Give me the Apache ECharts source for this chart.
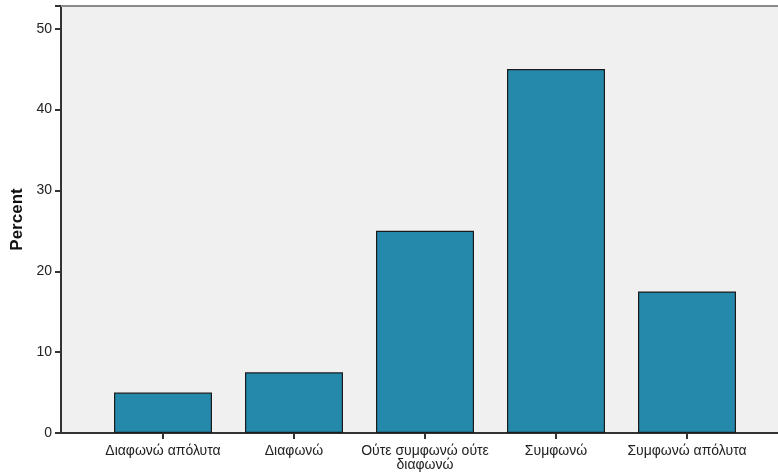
<!DOCTYPE html>
<html><head><meta charset="utf-8">
<script src="https://cdn.jsdelivr.net/npm/echarts@6/dist/echarts.min.js"></script>
<style>html,body{margin:0;padding:0;background:#fff}#c{width:778px;height:476px}</style>
</head><body><div id="c"></div>
<script>
var categories = ["Διαφωνώ απόλυτα", "Διαφωνώ", "Ούτε συμφωνώ ούτε\nδιαφωνώ", "Συμφωνώ", "Συμφωνώ απόλυτα"];
var percentValues = [5, 7.5, 25, 45, 17.5];
var yTicks = [0, 10, 20, 30, 40, 50];
var yMax = 52.8;

var chart = echarts.init(document.getElementById('c'), null, {renderer: 'canvas'});
var font = 'Liberation Sans, Arial, sans-serif';
chart.setOption({
  animation: false,
  grid: [
    {left: 61, right: -20, top: 6, bottom: 43, show: true, backgroundColor: '#f0f0f0', borderWidth: 0},
    {left: 97.5, width: 655, top: 6, bottom: 43}
  ],
  xAxis: [
    {gridIndex: 0, type: 'value', min: 0, max: 1, axisLine: {show: true, onZero: false, lineStyle: {color: '#333', width: 2}}, axisTick: {show: false}, axisLabel: {show: false}, splitLine: {show: false}},
    {gridIndex: 1, type: 'category', data: categories, axisLine: {show: false}, axisTick: {show: true, alignWithLabel: true, length: 6, lineStyle: {color: '#333', width: 2}},
     axisLabel: {interval: 0, color: '#222', fontFamily: font, fontSize: 14, lineHeight: 14, margin: 11}},
    {gridIndex: 0, type: 'value', position: 'top', min: 0, max: 1, axisLine: {show: true, onZero: false, lineStyle: {color: '#8a8a8a', width: 2}}, axisTick: {show: false}, axisLabel: {show: false}, splitLine: {show: false}}
  ],
  yAxis: [
    {gridIndex: 0, type: 'value', min: 0, max: yMax, interval: 10,
     name: 'Percent', nameLocation: 'middle', nameGap: 33, nameRotate: 90,
     nameTextStyle: {fontFamily: font, fontSize: 17, fontWeight: 'bold', color: '#111'},
     axisLine: {show: true, lineStyle: {color: '#333', width: 2}}, axisTick: {show: true, length: 6, lineStyle: {color: '#333', width: 2}},
     axisLabel: {color: '#222', fontFamily: font, fontSize: 14, margin: 9,
       formatter: function (v) { return yTicks.indexOf(v) >= 0 ? String(v) : ''; }},
     splitLine: {show: false}},
    {gridIndex: 1, type: 'value', min: 0, max: yMax, show: false, splitLine: {show: false}}
  ],
  series: [{
    type: 'bar', xAxisIndex: 1, yAxisIndex: 1, data: percentValues, barWidth: 98,
    itemStyle: {color: '#2589ab', borderColor: '#1b1b1b', borderWidth: 1.2}
  }]
});
</script></body></html>
